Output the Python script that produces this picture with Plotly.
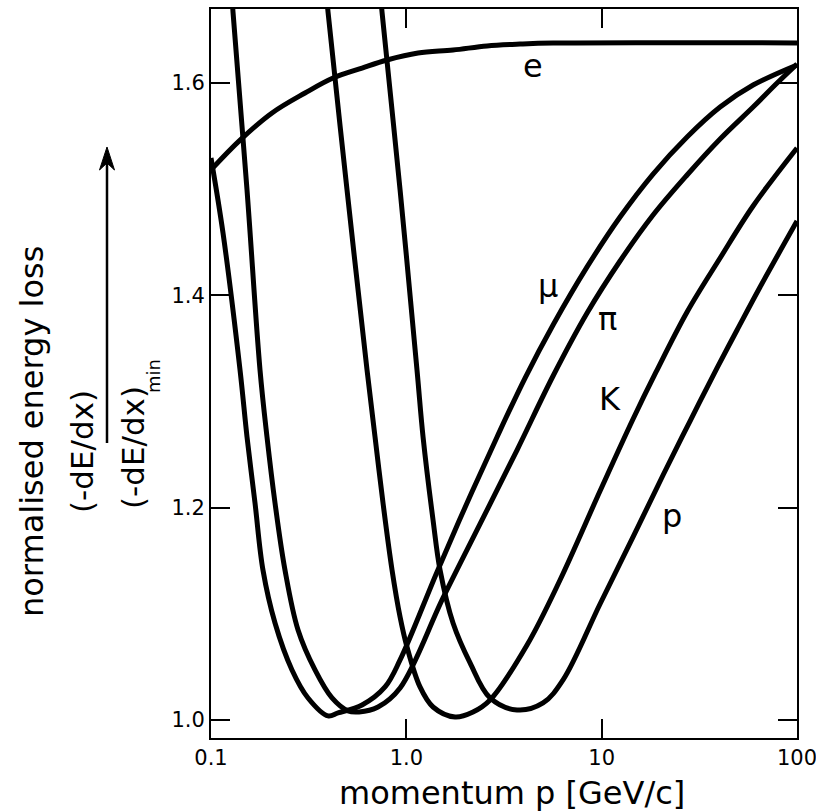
import numpy as np
import plotly.graph_objects as go

# Normalised energy loss (-dE/dx)/(-dE/dx)_min versus momentum for several particles
e_p = [0.1, 0.1408, 0.2053, 0.3029, 0.4214, 0.5933, 0.7965, 1.148, 1.734, 2.589, 3.82, 5.638, 100]
e_v = [1.518, 1.546, 1.5716, 1.5904, 1.6045, 1.6139, 1.6215, 1.6281, 1.6309, 1.6347, 1.6365, 1.6375, 1.6375]

mu_p = [0.1, 0.1152, 0.1408, 0.1529, 0.168, 0.1845, 0.2127, 0.2598, 0.3139, 0.3973, 0.447, 0.5933,
        0.778, 0.929, 1.436, 2.045, 2.914, 4.053, 5.638, 8.42, 12.42, 18.33, 27.37, 40.4, 59.6, 100]
mu_v = [1.5292, 1.4586, 1.3296, 1.2665, 1.2043, 1.1412, 1.0913, 1.0471, 1.0207, 1.0038, 1.0066, 1.0141,
        1.0311, 1.0565, 1.1394, 1.2043, 1.2665, 1.322, 1.3719, 1.4266, 1.4736, 1.5141, 1.549, 1.5772, 1.5979, 1.6168]

pi_p = [0.1266, 0.1296, 0.1529, 0.1782, 0.1935, 0.2127, 0.2392, 0.279, 0.3408, 0.4165, 0.5029, 0.5725,
        0.7164, 0.929, 1.541, 2.385, 3.688, 5.638, 8.42, 12.42, 18.33, 27.37, 40.4, 59.6, 79.08, 100]
pi_v = [1.6968, 1.6667, 1.499, 1.3296, 1.2665, 1.2043, 1.1412, 1.0847, 1.0471, 1.0207, 1.0085, 1.0075,
        1.0122, 1.0301, 1.1149, 1.1846, 1.2542, 1.3239, 1.3832, 1.4322, 1.4755, 1.5132, 1.5471, 1.5772, 1.5998, 1.6177]

k_p = [0.3835, 0.3973, 0.4971, 0.6293, 0.6915, 0.7597, 0.845, 0.929, 1.008, 1.175, 1.370, 1.776,
       2.195, 2.683, 4.150, 6.123, 9.81, 14.48, 18.99, 27.37, 40.4, 59.6, 100]
k_v = [1.6968, 1.6667, 1.499, 1.3296, 1.2665, 1.2043, 1.1412, 1.097, 1.0687, 1.0311, 1.0122, 1.0028,
       1.0075, 1.0188, 1.0706, 1.1318, 1.2156, 1.2834, 1.3277, 1.3842, 1.435, 1.484, 1.5386]

p_p = [0.7248, 0.7508, 0.929, 1.134, 1.218, 1.370, 1.488, 1.734, 2.120, 2.683, 3.688, 5.011, 6.345,
       9.81, 14.48, 20.63, 28.35, 38.99, 49.35, 64.71, 100]
p_v = [1.6968, 1.6667, 1.499, 1.3296, 1.2665, 1.1883, 1.1412, 1.0913, 1.0537, 1.0207, 1.0094, 1.016, 1.0377,
       1.1092, 1.1723, 1.2307, 1.2815, 1.3315, 1.3672, 1.4077, 1.4699]

curves = [("e", e_p, e_v), ("μ", mu_p, mu_v), ("π", pi_p, pi_v), ("K", k_p, k_v), ("p", p_p, p_v)]

# curve labels: (text, momentum, value)
labels = [("e", 4.454, 1.6158), ("μ", 5.317, 1.4087), ("π", 10.66, 1.3776),
          ("K", 11.04, 1.3023), ("p", 22.93, 1.1921)]

x_ticks = [0.1, 1, 10, 100]
x_ticktext = ["0.1", "1.0", "10", "100"]
y_ticks = [1.0, 1.2, 1.4, 1.6]
y_ticktext = ["1.0", "1.2", "1.4", "1.6"]

FONT = "DejaVu Sans"

fig = go.Figure()
for name, xs, ys in curves:
    fig.add_trace(go.Scatter(x=xs, y=ys, mode="lines", name=name,
                             line=dict(color="black", width=5, shape="spline", smoothing=1.0)))

for txt, xv, yv in labels:
    fig.add_annotation(x=np.log10(xv), y=yv, xref="x", yref="y", text=txt, showarrow=False,
                       font=dict(family=FONT, size=32, color="black"),
                       xanchor="center", yanchor="middle")

axis_common = dict(showline=True, linecolor="black", linewidth=2, mirror="ticks",
                   ticks="inside", ticklen=19, tickwidth=1.5, tickcolor="black",
                   showgrid=False, zeroline=False, ticklabeloverflow="allow", automargin=False,
                   tickfont=dict(family=FONT, size=21, color="black"))

fig.update_xaxes(type="log", range=[-1, 2], tickvals=x_ticks, ticktext=x_ticktext, **axis_common)
fig.update_yaxes(range=[0.983, 1.6695], tickvals=y_ticks, ticktext=y_ticktext, **axis_common)

# axis titles
fig.add_annotation(x=0.5145, y=-0.0755, xref="paper", yref="paper", text="momentum p [GeV/c]",
                   showarrow=False, font=dict(family=FONT, size=32, color="black"),
                   xanchor="center", yanchor="middle")
fig.add_annotation(x=-0.3055, y=0.4211, xref="paper", yref="paper", text="normalised energy loss",
                   textangle=-90, showarrow=False, font=dict(family=FONT, size=32, color="black"),
                   xanchor="center", yanchor="middle")
fig.add_annotation(x=-0.2201, y=0.3923, xref="paper", yref="paper", text="(-dE/dx)",
                   textangle=-90, showarrow=False, font=dict(family=FONT, size=31, color="black"),
                   xanchor="center", yanchor="middle")
fig.add_annotation(x=-0.1330, y=0.3978, xref="paper", yref="paper", text="(-dE/dx)",
                   textangle=-90, showarrow=False, font=dict(family=FONT, size=31, color="black"),
                   xanchor="center", yanchor="middle")
fig.add_annotation(x=-0.0973, y=0.4966, xref="paper", yref="paper", text="min",
                   textangle=-90, showarrow=False, font=dict(family=FONT, size=18, color="black"),
                   xanchor="center", yanchor="middle")

# upward arrow serving as the fraction bar
ax_x = -0.17747
fig.add_shape(type="line", xref="paper", yref="paper", x0=ax_x, x1=ax_x, y0=0.40466, y1=0.790,
              line=dict(color="black", width=2.5))
fig.add_shape(type="path", xref="paper", yref="paper",
              path="M -0.17747,0.81070 L -0.19027,0.77915 L -0.17747,0.78875 L -0.16468,0.77915 Z",
              fillcolor="black", line=dict(color="black", width=1))

fig.update_layout(width=816, height=811, margin=dict(l=211, r=19, t=9, b=73),
                  paper_bgcolor="white", plot_bgcolor="white", showlegend=False,
                  font=dict(family=FONT, color="black"))

fig.write_html("out.html")
